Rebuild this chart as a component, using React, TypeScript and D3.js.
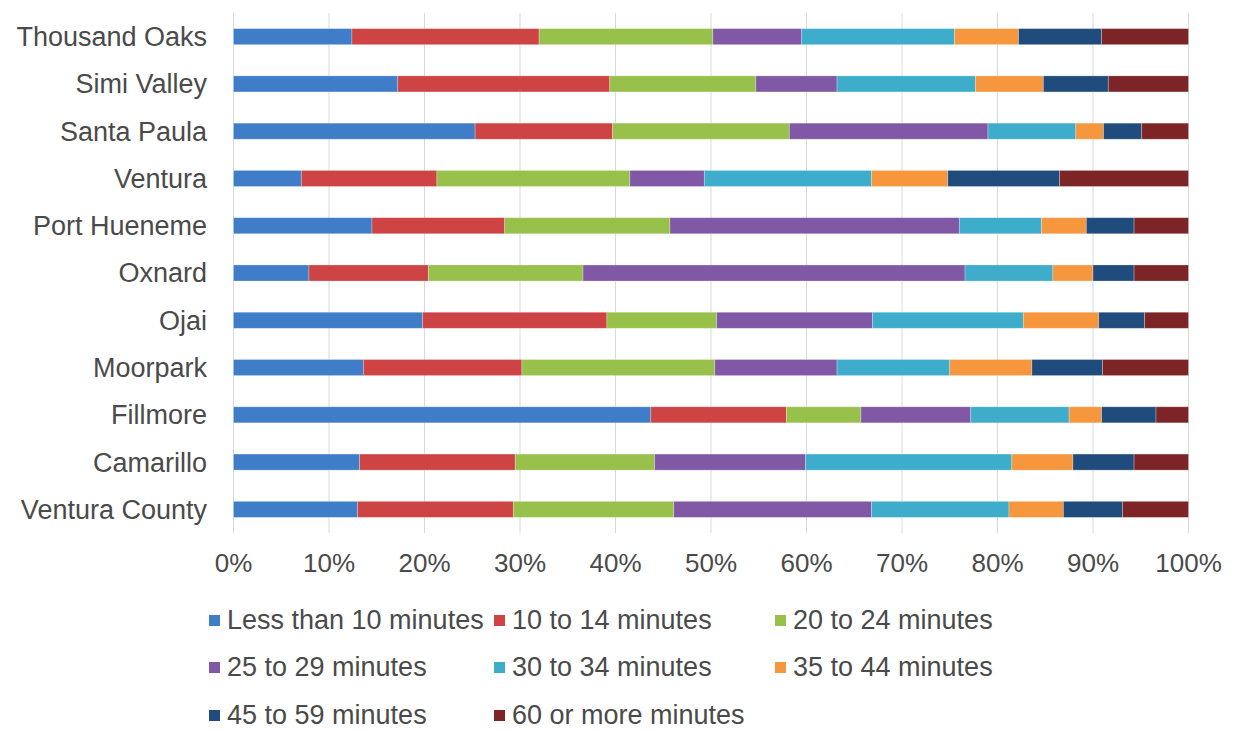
import * as d3 from 'd3';
import React, { useRef, useEffect } from 'react';

// commute time shares (%), one array per series, in category order
const categories = [
  'Thousand Oaks', 'Simi Valley', 'Santa Paula', 'Ventura', 'Port Hueneme',
  'Oxnard', 'Ojai', 'Moorpark', 'Fillmore', 'Camarillo', 'Ventura County',
];
const seriesNames = [
  'Less than 10 minutes', '10 to 14 minutes', '20 to 24 minutes', '25 to 29 minutes',
  '30 to 34 minutes', '35 to 44 minutes', '45 to 59 minutes', '60 or more minutes',
];
const lessThan10 = [12.4, 17.2, 25.3, 7.1, 14.5, 7.9, 19.8, 13.6, 43.7, 13.2, 13.0];
const min10to14 = [19.6, 22.2, 14.4, 14.2, 13.9, 12.5, 19.3, 16.6, 14.2, 16.3, 16.3];
const min20to24 = [18.2, 15.3, 18.5, 20.2, 17.3, 16.2, 11.5, 20.2, 7.8, 14.6, 16.8];
const min25to29 = [9.3, 8.5, 20.8, 7.8, 30.3, 40.0, 16.3, 12.8, 11.5, 15.8, 20.7];
const min30to34 = [16.0, 14.5, 9.2, 17.5, 8.6, 9.2, 15.8, 11.8, 10.3, 21.6, 14.4];
const min35to44 = [6.7, 7.1, 2.9, 8.0, 4.7, 4.2, 7.9, 8.6, 3.4, 6.4, 5.7];
const min45to59 = [8.7, 6.8, 4.0, 11.7, 5.0, 4.3, 4.8, 7.4, 5.7, 6.4, 6.2];
const min60plus = [9.1, 8.4, 4.9, 13.5, 5.7, 5.7, 4.6, 9.0, 3.4, 5.7, 6.9];
const xTicks = [0, 0.1, 0.2, 0.3, 0.4, 0.5, 0.6, 0.7, 0.8, 0.9, 1];

const seriesValues = [
  lessThan10, min10to14, min20to24, min25to29,
  min30to34, min35to44, min45to59, min60plus,
];
const colors = [
  '#3F7DC8', '#CE4343', '#98C14C', '#8058A6',
  '#3DADCB', '#F6973E', '#1F4C7C', '#7D2526',
];

const width = 1238;
const height = 731;
const font = "'Liberation Sans', Arial, sans-serif";
const textColor = '#4A4A4A';

function App(): any {
  const ref = useRef(null);

  useEffect(() => {
    const svg = d3.select(ref.current);
    svg.selectAll('*').remove();

    const rows = categories.map((c, i) => {
      const row: any = { category: c };
      seriesNames.forEach((s, j) => { row[s] = seriesValues[j][i]; });
      return row;
    });

    const stacked = d3.stack<any>()
      .keys(seriesNames)
      .offset(d3.stackOffsetExpand)(rows);

    const xScale = d3.scaleLinear().domain([0, 1]).range([233.5, 1188.5]);
    const yScale = d3.scaleBand()
      .domain(categories)
      .range([13, 533])
      .paddingInner(0.66)
      .paddingOuter(0.33);
    const color = d3.scaleOrdinal<string>().domain(seriesNames).range(colors);

    // vertical gridlines
    svg.append('g')
      .selectAll('line')
      .data(xTicks)
      .join('line')
      .attr('x1', (d) => xScale(d))
      .attr('x2', (d) => xScale(d))
      .attr('y1', 13)
      .attr('y2', 533)
      .attr('stroke', '#D9D9D9')
      .attr('stroke-width', 1);

    // stacked bars
    svg.append('g')
      .selectAll('g')
      .data(stacked)
      .join('g')
      .attr('fill', (d) => color(d.key))
      .selectAll('rect')
      .data((d) => d)
      .join('rect')
      .attr('x', (d) => xScale(d[0]))
      .attr('y', (d: any) => yScale(d.data.category) as number)
      .attr('width', (d) => xScale(d[1]) - xScale(d[0]))
      .attr('height', yScale.bandwidth())
      .attr('stroke', '#ffffff')
      .attr('stroke-opacity', 0.35)
      .attr('stroke-width', 0.75);

    // category labels
    svg.append('g')
      .selectAll('text')
      .data(categories)
      .join('text')
      .attr('x', 207)
      .attr('y', (d) => (yScale(d) as number) + yScale.bandwidth() / 2)
      .attr('dy', '0.35em')
      .attr('text-anchor', 'end')
      .attr('font-family', font)
      .attr('font-size', 27)
      .attr('fill', textColor)
      .text((d) => d);

    // x tick labels
    svg.append('g')
      .selectAll('text')
      .data(xTicks)
      .join('text')
      .attr('x', (d) => xScale(d))
      .attr('y', 572)
      .attr('text-anchor', 'middle')
      .attr('font-family', font)
      .attr('font-size', 26)
      .attr('fill', textColor)
      .text((d) => d3.format('.0%')(d));

    // legend, three columns
    const colX = [209, 494, 775];
    const rowY = [629, 676, 724];
    const legend = svg.append('g')
      .selectAll('g')
      .data(seriesNames)
      .join('g')
      .attr('transform', (_, i) => `translate(${colX[i % 3]},${rowY[Math.floor(i / 3)]})`);

    legend.append('rect')
      .attr('x', 0)
      .attr('y', -14)
      .attr('width', 11)
      .attr('height', 11)
      .attr('fill', (d) => color(d));

    legend.append('text')
      .attr('x', 18)
      .attr('y', 0)
      .attr('font-family', font)
      .attr('font-size', 27)
      .attr('fill', textColor)
      .text((d) => d);
  }, []);

  return (
    <svg
      ref={ref}
      width={width}
      height={height}
      style={{ position: 'absolute', left: 0, top: 0, background: '#ffffff' }}
    />
  );
}

export default App;
